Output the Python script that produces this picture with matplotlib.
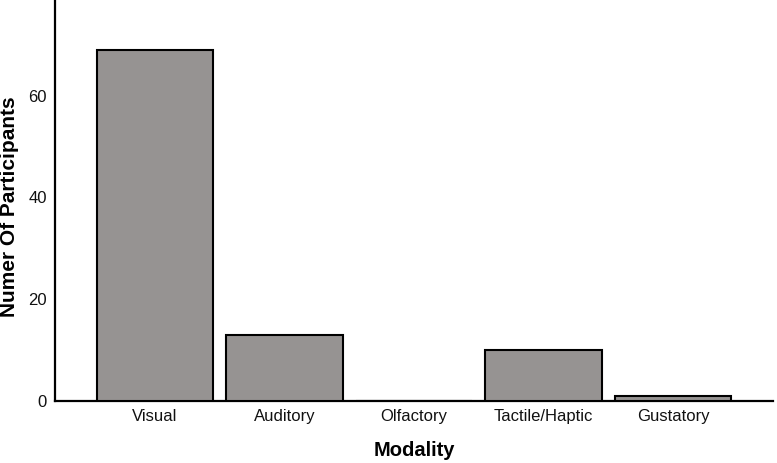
import matplotlib.pyplot as plt

# Data
modalities = ["Visual", "Auditory", "Olfactory", "Tactile/Haptic", "Gustatory"]
participants = [69, 13, 0, 10, 1]
y_ticks = [0, 20, 40, 60]

plt.rcParams['font.family'] = ['Liberation Sans', 'DejaVu Sans']

fig = plt.figure(figsize=(7.77, 4.63), dpi=100)
ax = fig.add_axes([0.0708, 0.1339, 0.9241, 0.866])

x = range(len(modalities))
ax.bar(x, participants, width=0.9, color="#969392",
       edgecolor="black", linewidth=1.5, zorder=3)

ax.set_xlim(-0.772, len(modalities) - 1 + 0.772)
ax.set_ylim(0, 78.8)
ax.set_xticks(list(x))
ax.set_xticklabels(modalities)
ax.set_yticks(y_ticks)
ax.tick_params(axis="x", length=0, labelsize=12, pad=6)
ax.tick_params(axis="y", length=0, labelsize=12, pad=6)
for lbl in ax.get_xticklabels() + ax.get_yticklabels():
    lbl.set_color("#111111")

for side in ["top", "right"]:
    ax.spines[side].set_visible(False)
for side in ["left", "bottom"]:
    ax.spines[side].set_linewidth(1.6)

ax.set_xlabel("Modality", fontsize=14.5, fontweight="bold", labelpad=12)
ax.set_ylabel("Numer Of Participants", fontsize=15, fontweight="bold")
ax.yaxis.set_label_coords(-0.05, 0.485)

fig.savefig("out.png", dpi=100)
